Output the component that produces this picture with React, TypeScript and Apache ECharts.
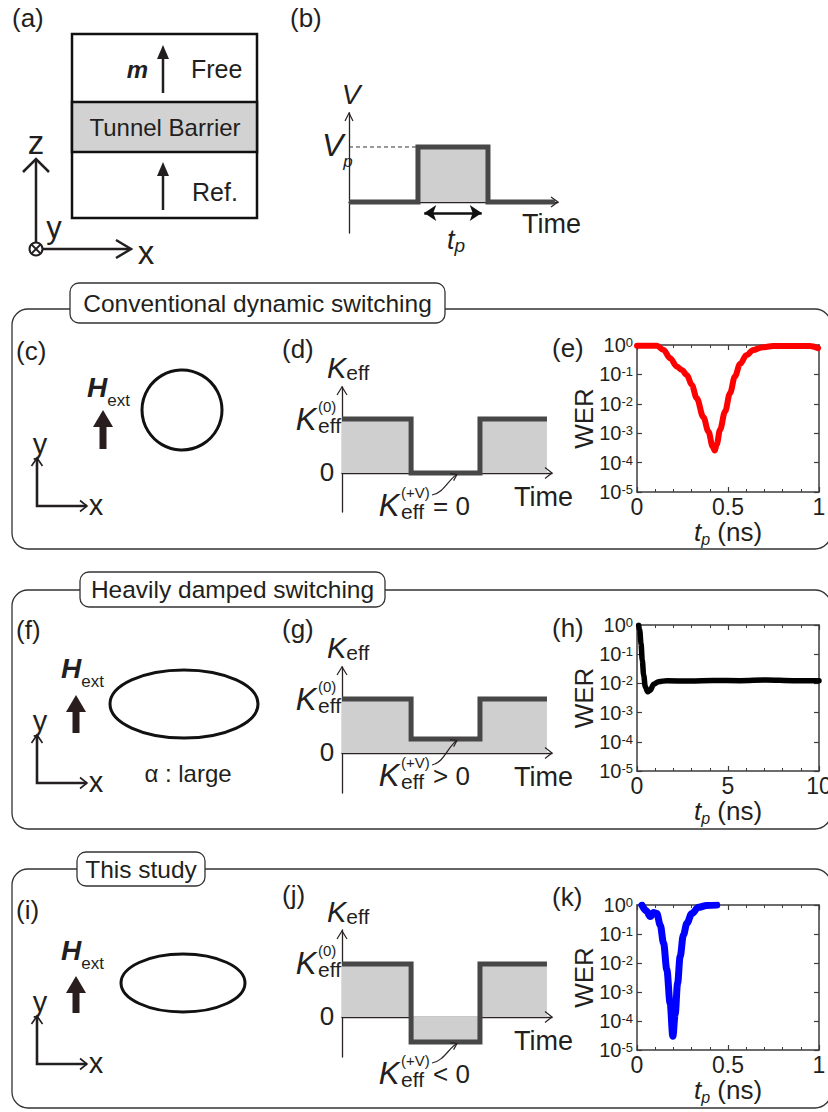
import { useEffect, useRef } from "react";
import * as echarts from "echarts";

const FONT = "'Liberation Sans', Arial, Helvetica, sans-serif";
const INK = "#231f20";
const AXIS_INK = "#2b2222";
const FRAME = "#3c3c3c";
const STEP_LINE = "#474747";
const STEP_FILL = "#cfcfcf";
const ARROW_BROWN = "#2a1d1d";

// ---------- (b) voltage pulse ----------
const pulseTime = [0, 3.3, 3.3, 6.65, 6.65, 9.85];
const pulseVoltage = [0, 0, 1, 1, 0, 0];
const pulseEdges = [3.3, 6.65];
const vpLevel = 1;
const tpArrowLevel = -0.2;

// ---------- (d)(g)(j) effective anisotropy steps ----------
const keffTime = [0, 3.29, 3.29, 6.57, 6.57, 9.76];
const keffConventional = [1, 1, 0, 0, 1, 1];
const keffDamped = [1, 1, 0.26, 0.26, 1, 1];
const keffThisStudy = [1, 1, -0.47, -0.47, 1, 1];

// ---------- (e) conventional dynamic switching ----------
const tpConventional = [0, 0.109, 0.146, 0.182, 0.219, 0.246, 0.274, 0.301, 0.328, 0.365, 0.392, 0.416, 0.427, 0.438, 0.456, 0.484, 0.511, 0.538, 0.566, 0.602, 0.639, 0.684, 0.748, 0.858, 0.949, 0.995];
const werConventional = [0.95, 0.95, 0.68, 0.355, 0.184, 0.141, 0.096, 0.044, 0.0155, 0.0035, 0.00115, 0.00035, 0.00026, 0.00041, 0.0013, 0.0055, 0.023, 0.085, 0.226, 0.457, 0.676, 0.83, 0.925, 0.925, 0.925, 0.78];

// ---------- (h) heavily damped switching ----------
const tpDamped = [0.09, 0.146, 0.22, 0.29, 0.365, 0.456, 0.584, 0.73, 0.912, 1.19, 1.64, 2.92, 4.2, 5.66, 7.12, 8.58, 10];
const werDamped = [0.98, 0.67, 0.235, 0.063, 0.0195, 0.0077, 0.0052, 0.0059, 0.0093, 0.0115, 0.0124, 0.012, 0.0126, 0.0124, 0.0131, 0.0124, 0.0124];

// ---------- (k) this study ----------
const tpThisStudy = [0.027, 0.051, 0.073, 0.091, 0.109, 0.128, 0.146, 0.164, 0.182, 0.197, 0.21, 0.223, 0.237, 0.255, 0.274, 0.301, 0.338, 0.383, 0.438];
const werThisStudy = [0.99, 0.63, 0.4, 0.55, 0.51, 0.2, 0.048, 0.0058, 0.00041, 0.00003, 0.00018, 0.002, 0.0166, 0.093, 0.234, 0.51, 0.83, 0.97, 0.99];

const werTickExponents = ["0", "-1", "-2", "-3", "-4", "-5"];

const zip = (xs: number[], ys: number[]) => xs.map((x, i) => [x, ys[i]]);

function buildOption() {
  const G: any[] = [];
  const txt = (x: number, y: number, text: string, size: number, o: any = {}) =>
    G.push({
      type: "text", x, y, silent: true, z: 10,
      style: {
        text, fill: o.color || INK, fontSize: size, fontFamily: FONT,
        fontStyle: o.italic ? "italic" : "normal", fontWeight: o.bold ? "bold" : "normal",
        align: o.align || "left", verticalAlign: o.valign || "middle",
        textAlign: o.align || "left", textVerticalAlign: o.valign || "middle",
      },
    });
  const rtxt = (x: number, y: number, text: string, rich: any, valign = "top") =>
    G.push({
      type: "text", x, y, silent: true, z: 10,
      style: {
        text, rich, fill: INK, fontFamily: FONT,
        align: "left", verticalAlign: valign, textAlign: "left", textVerticalAlign: valign,
      },
    });
  const rs = (size: number, lh: number, o: any = {}) => ({
    fontSize: size, lineHeight: lh, fontFamily: FONT, fill: INK, color: INK,
    fontStyle: o.italic ? "italic" : "normal", fontWeight: o.bold ? "bold" : "normal",
    verticalAlign: "top", padding: o.pad || [0, 0, 0, 0],
  });
  const seg = (x1: number, y1: number, x2: number, y2: number, w = 2.5, color = INK) =>
    G.push({ type: "line", silent: true, z: 10, shape: { x1, y1, x2, y2 }, style: { stroke: color, lineWidth: w } });
  const poly = (points: number[][], w: number, color = INK) =>
    G.push({ type: "polyline", silent: true, z: 10, shape: { points }, style: { stroke: color, lineWidth: w, fill: "none", lineJoin: "miter" } });
  const tri = (points: number[][], color = INK) =>
    G.push({ type: "polygon", silent: true, z: 10, shape: { points }, style: { fill: color } });

  // ---------- (a) ----------
  txt(12, 18, "(a)", 26);
  G.push({ type: "rect", silent: true, z: 9, shape: { x: 72, y: 34, width: 185, height: 184 }, style: { fill: "#fff", stroke: "#111", lineWidth: 2.5 } });
  G.push({ type: "rect", silent: true, z: 9, shape: { x: 72, y: 102, width: 185, height: 50 }, style: { fill: "#d2d2d2", stroke: "#111", lineWidth: 2.5 } });
  txt(148, 69, "m", 24, { bold: true, italic: true, align: "right" });
  seg(163, 93, 163, 55, 2.5);
  tri([[163, 45], [157, 59], [169, 59]]);
  txt(191, 69, "Free", 25);
  txt(165, 127, "Tunnel Barrier", 24, { align: "center" });
  seg(163, 210, 163, 173, 2.5);
  tri([[163, 162], [157, 176], [169, 176]]);
  txt(192, 192, "Ref.", 25);
  seg(36, 242, 36, 160, 2.5);
  poly([[23, 172], [36, 159], [49, 172]], 2.5);
  G.push({ type: "circle", silent: true, z: 10, shape: { cx: 36, cy: 249, r: 6.5 }, style: { fill: "#fff", stroke: INK, lineWidth: 2 } });
  seg(31.5, 244.5, 40.5, 253.5, 1.8);
  seg(40.5, 244.5, 31.5, 253.5, 1.8);
  seg(43, 249, 131, 249, 2.5);
  poly([[116, 240], [131, 249], [116, 258]], 2.5);
  txt(36, 142, "z", 33, { align: "center" });
  txt(54, 227, "y", 31, { align: "center" });
  txt(146, 252, "x", 33, { align: "center" });

  // ---------- (b) ----------
  txt(290, 18, "(b)", 26);
  txt(351, 94, "V", 28, { italic: true, align: "center" });
  poly([[345, 121], [349, 113], [353, 121]], 1.2, AXIS_INK);
  poly([[551, 197], [558, 202], [551, 207]], 1.2, AXIS_INK);
  rtxt(322, 129, "{v|V}{p|p}", { v: rs(32, 32, { italic: true }), p: rs(17, 17, { italic: true, pad: [24, 0, 0, 0] }) });
  txt(522, 224, "Time", 27);
  rtxt(447, 226, "{t|t}{p|p}", { t: rs(27, 27, { italic: true }), p: rs(19, 19, { italic: true, pad: [10, 0, 0, 0] }) });

  // ---------- sections ----------
  const section = (top: number, bottom: number, bx: number, by: number, bw: number, bh: number, label: string) => {
    G.push({ type: "rect", silent: true, z: 1, shape: { x: 12, y: top, width: 819, height: bottom - top, r: 16 }, style: { fill: "none", stroke: "#333", lineWidth: 1.3 } });
    G.push({ type: "rect", silent: true, z: 2, shape: { x: bx, y: by, width: bw, height: bh, r: 9 }, style: { fill: "#fff", stroke: "#333", lineWidth: 1.3 } });
    txt(bx + bw / 2, by + bh / 2, label, 24.5, { align: "center" });
  };
  section(309, 549, 70, 283, 375, 40, "Conventional dynamic switching");
  section(590, 829, 80, 572, 305, 35, "Heavily damped switching");
  section(869, 1108, 77, 852, 128, 34, "This study");

  // ---------- magnet panels (c)(f)(i) ----------
  const fatArrow = (x: number, tipY: number, baseY: number, botY: number) => {
    tri([[x - 10, baseY], [x, tipY], [x + 10, baseY]], ARROW_BROWN);
    G.push({ type: "rect", silent: true, z: 10, shape: { x: x - 3.5, y: baseY - 1, width: 7, height: botY - baseY + 1 }, style: { fill: ARROW_BROWN } });
  };
  const xyAxes = (cx: number, cy: number) => {
    poly([[cx, cy - 48], [cx, cy], [cx + 50, cy]], 2.6);
    poly([[cx - 5.5, cy - 40], [cx, cy - 48], [cx + 5.5, cy - 40]], 1.6);
    poly([[cx + 43, cy - 5.5], [cx + 50, cy], [cx + 43, cy + 5.5]], 1.6);
    txt(cx + 3, cy - 62, "y", 29, { align: "center" });
    txt(cx + 59, cy - 1, "x", 29, { align: "center" });
  };
  const hExt = (hx: number, hy: number) => {
    rtxt(hx - 11, hy - 14, "{h|H}{e|ext}", { h: rs(28, 28, { bold: true, italic: true }), e: rs(17, 17, { pad: [19, 0, 0, 0] }) });
  };
  // (c)
  txt(16, 351, "(c)", 26);
  hExt(98, 387);
  fatArrow(103, 410, 427, 449);
  G.push({ type: "circle", silent: true, z: 10, shape: { cx: 182, cy: 410, r: 40 }, style: { fill: "none", stroke: "#111", lineWidth: 3 } });
  xyAxes(37, 506);
  // (f)
  txt(16, 630, "(f)", 26);
  hExt(72, 668);
  fatArrow(76, 695, 712, 733);
  G.push({ type: "ellipse", silent: true, z: 10, shape: { cx: 184, cy: 704, rx: 74, ry: 34 }, style: { fill: "none", stroke: "#111", lineWidth: 3 } });
  xyAxes(37, 783);
  txt(188, 773, "\u03b1 : large", 24, { align: "center" });
  // (i)
  txt(16, 910, "(i)", 26);
  hExt(72, 950);
  fatArrow(76, 976, 993, 1013);
  G.push({ type: "ellipse", silent: true, z: 10, shape: { cx: 183, cy: 983, rx: 62, ry: 29 }, style: { fill: "none", stroke: "#111", lineWidth: 3 } });
  xyAxes(37, 1064);

  // ---------- Keff panels (d)(g)(j) ----------
  const stack = (x: number, cy: number, sup: string, sub: string, supSize: number, subSize: number) =>
    rtxt(x, cy - 18, `{a|${sup}}\n{b|${sub}}`, { a: rs(supSize, 16), b: rs(subSize, 20) });
  const keffLabels = (letter: string, y0: number, yLow: number, kvY: number, relation: string, labelY: number) => {
    txt(282, labelY, `(${letter})`, 26);
    rtxt(327, y0 - 120, "{k|K}{e|eff}", { k: rs(29, 29, { italic: true }), e: rs(21, 21, { pad: [9, 0, 0, 0] }) });
    poly([[337, y0 - 78], [342, y0 - 86], [347, y0 - 78]], 1.2, AXIS_INK);
    poly([[545, y0 - 5.5], [552, y0], [545, y0 + 5.5]], 1.2, AXIS_INK);
    const yK = y0 - 54;
    txt(306, yK, "K", 31, { italic: true, align: "center" });
    stack(318, yK - 2, "(0)", "eff", 15, 21);
    txt(327, y0 - 1, "0", 26, { align: "center" });
    txt(389, kvY, "K", 31, { italic: true, align: "center" });
    stack(401, kvY - 2, "(+V)", "eff", 15, 21);
    txt(433, kvY + 1, relation, 26);
    const sx = 432, sy = kvY - 10, ex = 457, ey = yLow + 1.5;
    const c2x = 449, c2y = ey + 4;
    G.push({ type: "bezierCurve", silent: true, z: 10, shape: { x1: sx, y1: sy, x2: ex, y2: ey, cpx1: sx + 12, cpy1: sy - 2, cpx2: c2x, cpy2: c2y }, style: { stroke: AXIS_INK, lineWidth: 1.2, fill: "none" } });
    const ang = Math.atan2(ey - c2y, ex - c2x);
    const L = 7, a = 0.6;
    poly([[ex - L * Math.cos(ang - a), ey - L * Math.sin(ang - a)], [ex, ey], [ex - L * Math.cos(ang + a), ey - L * Math.sin(ang + a)]], 1.2, AXIS_INK);
    txt(514, y0 + 24, "Time", 27);
  };
  keffLabels("d", 473, 473, 505, "= 0", 349);
  keffLabels("g", 753, 739, 775, "> 0", 629);
  keffLabels("j", 1017, 1042, 1073, "< 0", 895);

  // ---------- WER panel labels ----------
  txt(552, 348, "(e)", 26);
  txt(552, 628, "(h)", 26);
  txt(552, 897, "(k)", 26);

  // ---------- grids ----------
  const gridBoxes = [
    { left: 349, top: 113, width: 209, height: 120 }, // b
    { left: 342, top: 387, width: 210, height: 125 }, // d
    { left: 342, top: 667, width: 210, height: 126 }, // g
    { left: 342, top: 930, width: 210, height: 127 }, // j
    { left: 637, top: 345, width: 182, height: 147 }, // e
    { left: 637, top: 625, width: 182, height: 146 }, // h
    { left: 637, top: 905, width: 182, height: 145 }, // k
  ];
  const grid = gridBoxes.map((g) => ({ ...g, containLabel: false, outerBoundsMode: "none", show: false }));

  const diagX = (gridIndex: number) => ({
    type: "value", gridIndex, min: 0, max: 10,
    axisLine: { show: true, onZero: true, lineStyle: { color: AXIS_INK, width: 1.3 } },
    axisTick: { show: false }, axisLabel: { show: false }, splitLine: { show: false },
  });
  const diagY = (gridIndex: number, min: number, max: number) => ({
    type: "value", gridIndex, min, max,
    axisLine: { show: true, onZero: true, lineStyle: { color: AXIS_INK, width: 1.3 } },
    axisTick: { show: false }, axisLabel: { show: false }, splitLine: { show: false },
  });

  const tick = { show: true, inside: true, length: 5, lineStyle: { color: FRAME, width: 1.2 } };
  const minor = { show: true, splitNumber: 5, length: 3, lineStyle: { color: FRAME, width: 1 } };
  const frameLine = { show: true, onZero: false, lineStyle: { color: FRAME, width: 1.5 } };
  const werX = (gridIndex: number, max: number, interval: number) => [
    {
      type: "value", gridIndex, position: "bottom", min: 0, max, interval,
      axisLine: frameLine, axisTick: tick, minorTick: minor,
      splitLine: { show: false }, minorSplitLine: { show: false },
      axisLabel: { show: true, margin: 3, fontSize: 23, fontFamily: FONT, color: INK },
      name: "{t|t}{p|p}{n| (ns)}", nameLocation: "middle", nameGap: 27, nameMoveOverlap: false,
      nameTextStyle: {
        rich: {
          t: { fontSize: 26, fontStyle: "italic", fontFamily: FONT, color: INK, lineHeight: 26, verticalAlign: "top" },
          p: { fontSize: 16, fontStyle: "italic", fontFamily: FONT, color: INK, lineHeight: 16, padding: [12, 0, 0, 0], verticalAlign: "top" },
          n: { fontSize: 26, fontFamily: FONT, color: INK, lineHeight: 26, verticalAlign: "top" },
        },
      },
    },
    {
      type: "value", gridIndex, position: "top", min: 0, max, interval,
      axisLine: frameLine, axisTick: tick, minorTick: minor,
      splitLine: { show: false }, minorSplitLine: { show: false }, axisLabel: { show: false },
    },
  ];
  const werY = (gridIndex: number) => [
    {
      type: "log", logBase: 10, gridIndex, position: "left", min: 0.00001, max: 1,
      axisLine: frameLine, axisTick: tick, splitLine: { show: false },
      axisLabel: {
        show: true, margin: 4,
        formatter: (v: number) => `{b|10}{s|${werTickExponents[-Math.round(Math.log10(v))]}}`,
        rich: {
          b: { fontSize: 20, fontFamily: FONT, color: INK, lineHeight: 20 },
          s: { fontSize: 13, fontFamily: FONT, color: INK, lineHeight: 13, padding: [0, 0, 5, 0] },
        },
      },
      name: "WER", nameLocation: "middle", nameRotate: 90, nameGap: 40, nameMoveOverlap: false,
      nameTextStyle: { fontSize: 26, fontFamily: FONT, color: INK },
    },
    {
      type: "log", logBase: 10, gridIndex, position: "right", min: 0.00001, max: 1,
      axisLine: frameLine, axisTick: tick, splitLine: { show: false }, axisLabel: { show: false },
    },
  ];

  const xAxis: any[] = [diagX(0), diagX(1), diagX(2), diagX(3), ...werX(4, 1, 0.5), ...werX(5, 10, 5), ...werX(6, 1, 0.5)];
  const yAxis: any[] = [
    diagY(0, -0.5636, 1.618),
    diagY(1, -0.7222, 1.5926),
    diagY(2, -0.7407, 1.5926),
    diagY(3, -0.7547, 1.6415),
    ...werY(4), ...werY(5), ...werY(6),
  ];

  const stepSeries = (idx: number, ys: number[], xs: number[]) => ({
    type: "line", xAxisIndex: idx, yAxisIndex: idx, data: zip(xs, ys), symbol: "none", silent: true, z: 3,
    lineStyle: { color: STEP_LINE, width: 5, join: "miter", cap: "butt" },
    areaStyle: { color: STEP_FILL, opacity: 1 },
  });
  const werSeries = (xIdx: number, yIdx: number, xs: number[], ys: number[], color: string, width: number) => ({
    type: "line", xAxisIndex: xIdx, yAxisIndex: yIdx, data: zip(xs, ys), symbol: "none", silent: true,
    smooth: 0.35, smoothMonotone: "x", clip: true, z: 3,
    lineStyle: { color, width, cap: "round", join: "round" },
  });

  const series: any[] = [
    stepSeries(0, pulseVoltage, pulseTime),
    {
      type: "line", xAxisIndex: 0, yAxisIndex: 0, data: [[0, vpLevel], [pulseEdges[0], vpLevel]], symbol: "none", silent: true, z: 2,
      lineStyle: { color: "#333", width: 1, type: [4, 3] },
      markLine: {
        silent: true, symbol: ["arrow", "arrow"], symbolSize: [12, 12], label: { show: false },
        lineStyle: { color: "#111", width: 2.6, type: "solid" },
        emphasis: { disabled: true },
        data: [[{ coord: [pulseEdges[0] + 0.3, tpArrowLevel] }, { coord: [pulseEdges[1] - 0.3, tpArrowLevel] }]],
      },
    },
    stepSeries(1, keffConventional, keffTime),
    stepSeries(2, keffDamped, keffTime),
    stepSeries(3, keffThisStudy, keffTime),
    werSeries(4, 4, tpConventional, werConventional, "#ff0000", 6),
    werSeries(6, 6, tpDamped, werDamped, "#000000", 5.5),
    werSeries(8, 8, tpThisStudy, werThisStudy, "#0000ff", 7),
  ];

  return {
    animation: false,
    backgroundColor: "#ffffff",
    textStyle: { fontFamily: FONT },
    grid, xAxis, yAxis, series,
    graphic: { elements: G },
  };
}

export default function App() {
  const ref = useRef<HTMLDivElement>(null);
  useEffect(() => {
    if (!ref.current) return;
    const chart = echarts.init(ref.current, null, { renderer: "svg", width: 828, height: 1112 });
    chart.setOption(buildOption() as any);
    return () => chart.dispose();
  }, []);
  return <div ref={ref} style={{ position: "absolute", left: 0, top: 0, width: 828, height: 1112, background: "#fff" }} />;
}
